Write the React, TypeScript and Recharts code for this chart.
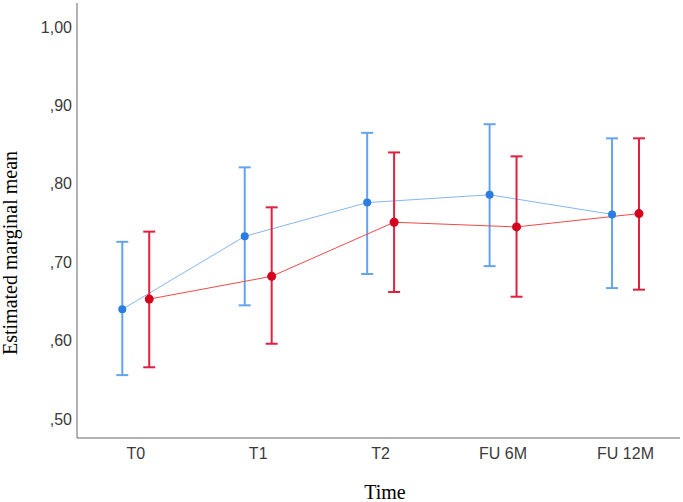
import { ComposedChart, Line, XAxis, YAxis, ErrorBar } from 'recharts';

const categories = ['T0', 'T1', 'T2', 'FU 6M', 'FU 12M'];

const blueMean = [0.640, 0.733, 0.776, 0.786, 0.761];
const blueLower = [0.556, 0.645, 0.685, 0.695, 0.667];
const blueUpper = [0.726, 0.821, 0.865, 0.876, 0.858];

const redMean = [0.653, 0.682, 0.751, 0.745, 0.762];
const redLower = [0.566, 0.596, 0.662, 0.656, 0.665];
const redUpper = [0.739, 0.770, 0.840, 0.835, 0.858];

const yTicks = [0.5, 0.6, 0.7, 0.8, 0.9, 1.0];

// groups sit slightly left/right of the category centre
const OFFSET = 0.11;

const build = (mean: number[], lo: number[], hi: number[], shift: number) =>
  categories.map((c, i) => ({
    name: c,
    x: i + shift,
    y: mean[i],
    err: [mean[i] - lo[i], hi[i] - mean[i]],
  }));

const blueData = build(blueMean, blueLower, blueUpper, -OFFSET);
const redData = build(redMean, redLower, redUpper, OFFSET);

const fmtY = (v: number) => {
  const s = v.toFixed(2).replace('.', ',');
  return s.startsWith('0') ? s.slice(1) : s;
};

const tickFont = { fontFamily: 'Liberation Sans, Arial, sans-serif', fontSize: 16, fill: '#3a3a3a' };

export default function App() {
  return (
    <div style={{ position: 'absolute', left: 0, top: 0, background: '#fff' }}>
      <ComposedChart width={683} height={502} margin={{ top: 3, right: 3, bottom: 0, left: 0 }}>
        <XAxis
          type="number"
          dataKey="x"
          domain={[-0.48, 4.445]}
          allowDataOverflow
          ticks={[0, 1, 2, 3, 4]}
          tickFormatter={(v: number) => categories[v] ?? ''}
          tickLine={false}
          tickSize={0}
          tickMargin={10}
          height={64}
          stroke="#666"
          tick={tickFont}
          label={{
            content: () => (
              <text x={385} y={499} textAnchor="middle" fontFamily="Liberation Serif, Times New Roman, serif" fontSize={20} fill="#000">
                Time
              </text>
            ),
          }}
        />
        <YAxis
          type="number"
          domain={[0.4758, 1.0306]}
          allowDataOverflow
          ticks={yTicks}
          tickFormatter={fmtY}
          tickLine={false}
          tickSize={0}
          tickMargin={5}
          width={77}
          stroke="#666"
          tick={tickFont}
          label={{
            content: () => (
              <text
                x={17}
                y={253}
                transform="rotate(-90 17 253)"
                textAnchor="middle"
                fontFamily="Liberation Serif, Times New Roman, serif"
                fontSize={20}
                fill="#000"
              >
                Estimated marginal mean
              </text>
            ),
          }}
        />
        <Line
          data={blueData}
          dataKey="y"
          type="linear"
          stroke="#85b6ef"
          strokeWidth={1}
          dot={{ r: 4, fill: '#2a7de1', stroke: 'none' }}
          activeDot={false}
          isAnimationActive={false}
        >
          <ErrorBar dataKey="err" direction="y" width={6} stroke="#64a4ee" strokeWidth={2} />
        </Line>
        <Line
          data={redData}
          dataKey="y"
          type="linear"
          stroke="#f04a4a"
          strokeWidth={1}
          dot={{ r: 4.5, fill: '#d5001c', stroke: 'none' }}
          activeDot={false}
          isAnimationActive={false}
        >
          <ErrorBar dataKey="err" direction="y" width={6} stroke="#e0203f" strokeWidth={2} />
        </Line>
      </ComposedChart>
    </div>
  );
}
